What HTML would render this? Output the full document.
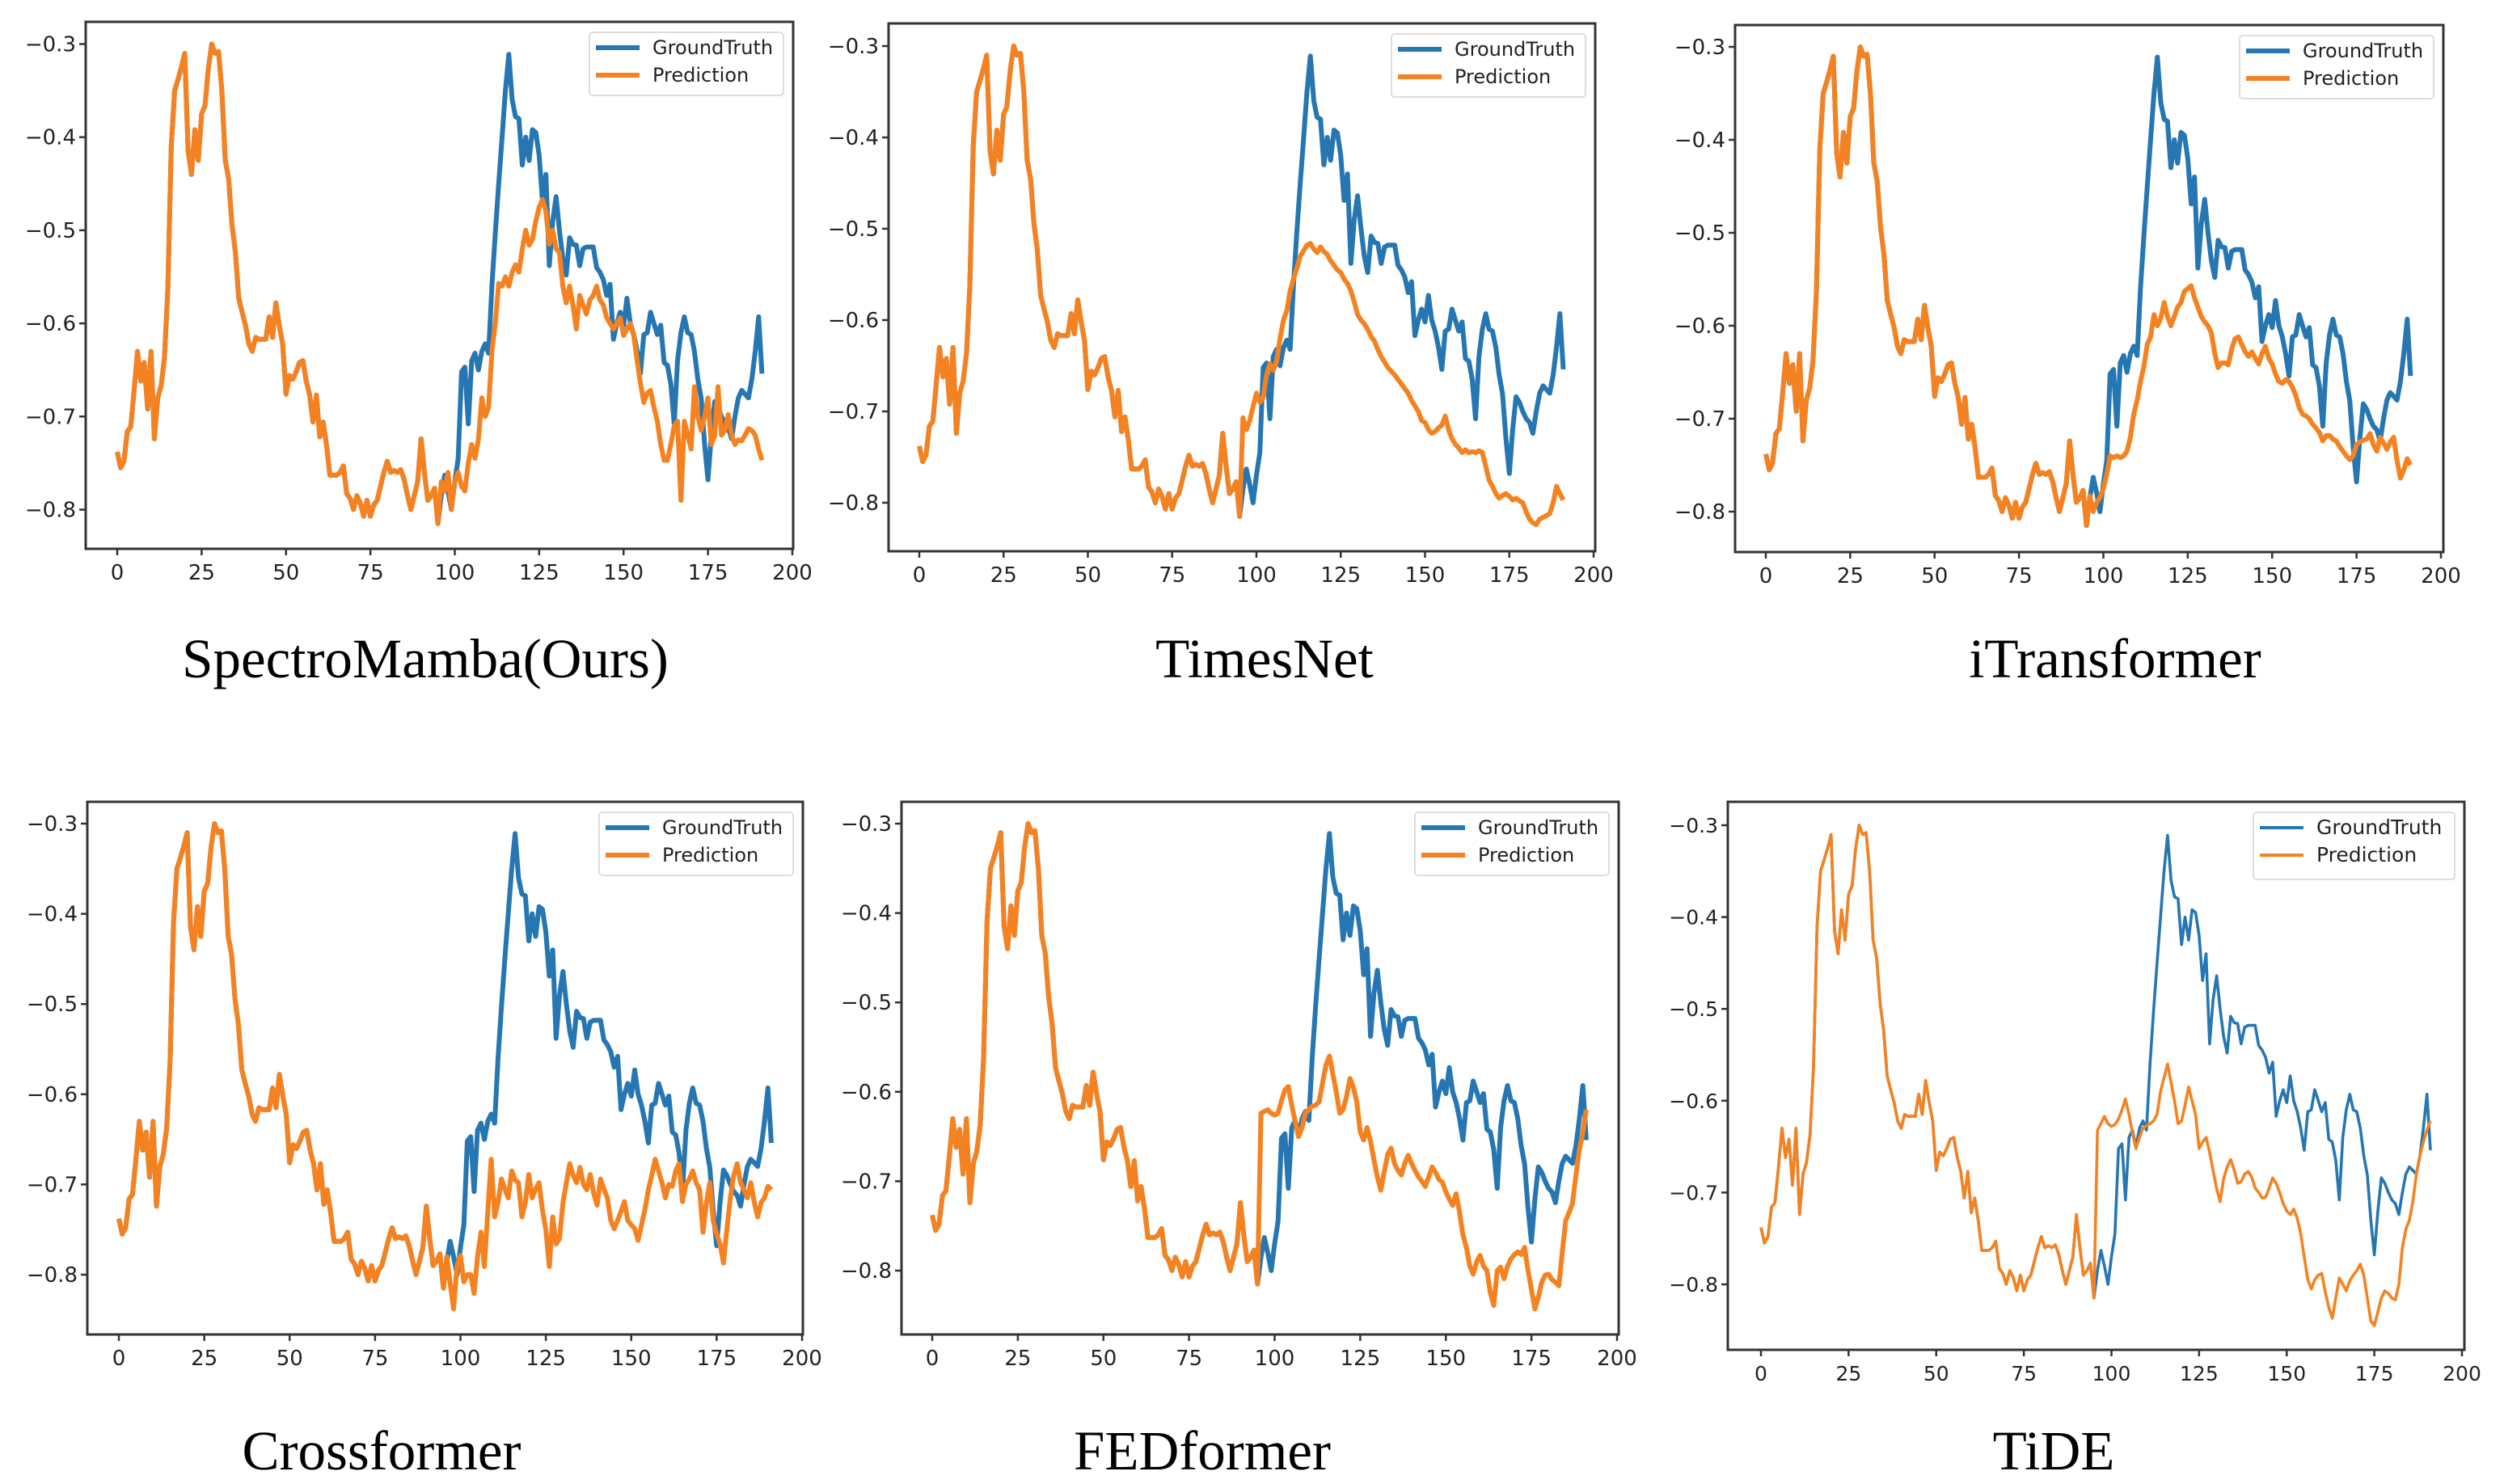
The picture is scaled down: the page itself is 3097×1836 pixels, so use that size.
<!DOCTYPE html>
<html><head><meta charset="utf-8"><style>
html,body{margin:0;padding:0;background:#fff;}
svg{display:block;}
</style></head><body>
<svg id="fig" xmlns="http://www.w3.org/2000/svg" width="3097" height="1836" viewBox="0 0 3097 1836"></svg>
<script>
const history = [-0.738,-0.755,-0.748,-0.716,-0.711,-0.672,-0.63,-0.662,-0.642,-0.692,-0.63,-0.724,-0.68,-0.667,-0.637,-0.563,-0.41,-0.35,-0.338,-0.325,-0.31,-0.415,-0.44,-0.392,-0.425,-0.375,-0.366,-0.326,-0.3,-0.31,-0.308,-0.35,-0.425,-0.445,-0.494,-0.523,-0.573,-0.588,-0.602,-0.622,-0.63,-0.615,-0.617,-0.617,-0.617,-0.593,-0.615,-0.578,-0.602,-0.622,-0.676,-0.656,-0.66,-0.652,-0.642,-0.64,-0.662,-0.677,-0.706,-0.677,-0.722,-0.706,-0.731,-0.763,-0.763,-0.763,-0.76,-0.753,-0.783,-0.788,-0.8,-0.785,-0.793,-0.807,-0.79,-0.807,-0.795,-0.79,-0.775,-0.76,-0.748,-0.76,-0.758,-0.76,-0.757,-0.768,-0.785,-0.8,-0.785,-0.77,-0.724,-0.76,-0.79,-0.785,-0.777,-0.815];
const groundTruth = [-0.785,-0.763,-0.78,-0.8,-0.77,-0.745,-0.652,-0.647,-0.708,-0.64,-0.632,-0.65,-0.63,-0.622,-0.632,-0.56,-0.503,-0.45,-0.4,-0.35,-0.311,-0.36,-0.378,-0.38,-0.43,-0.4,-0.425,-0.392,-0.395,-0.42,-0.469,-0.44,-0.538,-0.49,-0.464,-0.5,-0.53,-0.548,-0.508,-0.515,-0.516,-0.538,-0.52,-0.518,-0.518,-0.518,-0.54,-0.545,-0.553,-0.57,-0.558,-0.617,-0.6,-0.588,-0.602,-0.573,-0.6,-0.612,-0.63,-0.654,-0.612,-0.61,-0.588,-0.6,-0.612,-0.602,-0.642,-0.645,-0.665,-0.708,-0.64,-0.61,-0.593,-0.61,-0.612,-0.63,-0.66,-0.681,-0.73,-0.768,-0.72,-0.684,-0.69,-0.7,-0.708,-0.712,-0.724,-0.7,-0.68,-0.672,-0.676,-0.68,-0.66,-0.63,-0.593,-0.654];
const predSpectroMamba = [-0.77,-0.78,-0.76,-0.8,-0.77,-0.76,-0.775,-0.78,-0.75,-0.73,-0.745,-0.725,-0.68,-0.7,-0.69,-0.63,-0.6,-0.557,-0.56,-0.55,-0.56,-0.545,-0.537,-0.545,-0.52,-0.5,-0.516,-0.51,-0.49,-0.475,-0.467,-0.48,-0.515,-0.5,-0.52,-0.524,-0.56,-0.578,-0.56,-0.58,-0.606,-0.57,-0.58,-0.59,-0.575,-0.57,-0.56,-0.575,-0.58,-0.594,-0.6,-0.606,-0.6,-0.594,-0.613,-0.606,-0.6,-0.613,-0.64,-0.664,-0.685,-0.675,-0.672,-0.69,-0.705,-0.73,-0.747,-0.747,-0.73,-0.71,-0.705,-0.79,-0.705,-0.72,-0.735,-0.668,-0.7,-0.715,-0.7,-0.68,-0.73,-0.72,-0.668,-0.72,-0.715,-0.698,-0.72,-0.73,-0.725,-0.726,-0.72,-0.713,-0.715,-0.72,-0.735,-0.747];
const predTimesNet = [-0.707,-0.72,-0.71,-0.695,-0.68,-0.69,-0.685,-0.66,-0.648,-0.655,-0.645,-0.62,-0.6,-0.59,-0.568,-0.555,-0.543,-0.53,-0.524,-0.518,-0.516,-0.522,-0.526,-0.52,-0.525,-0.528,-0.535,-0.54,-0.545,-0.548,-0.555,-0.56,-0.568,-0.58,-0.594,-0.6,-0.604,-0.61,-0.618,-0.623,-0.632,-0.64,-0.646,-0.652,-0.656,-0.66,-0.665,-0.67,-0.675,-0.68,-0.688,-0.694,-0.7,-0.71,-0.712,-0.72,-0.724,-0.722,-0.718,-0.715,-0.705,-0.72,-0.73,-0.736,-0.74,-0.745,-0.742,-0.745,-0.744,-0.745,-0.743,-0.745,-0.76,-0.775,-0.782,-0.79,-0.795,-0.792,-0.79,-0.793,-0.797,-0.795,-0.798,-0.8,-0.81,-0.818,-0.822,-0.824,-0.818,-0.816,-0.814,-0.812,-0.8,-0.782,-0.79,-0.797];
const predITransformer = [-0.783,-0.8,-0.79,-0.785,-0.775,-0.76,-0.74,-0.742,-0.74,-0.742,-0.74,-0.735,-0.72,-0.695,-0.68,-0.66,-0.644,-0.62,-0.612,-0.588,-0.6,-0.592,-0.575,-0.59,-0.6,-0.59,-0.58,-0.575,-0.563,-0.56,-0.557,-0.57,-0.58,-0.59,-0.596,-0.6,-0.608,-0.63,-0.645,-0.64,-0.64,-0.642,-0.625,-0.614,-0.612,-0.62,-0.628,-0.633,-0.628,-0.635,-0.641,-0.63,-0.622,-0.635,-0.641,-0.652,-0.66,-0.662,-0.658,-0.66,-0.666,-0.675,-0.688,-0.695,-0.697,-0.7,-0.706,-0.71,-0.715,-0.724,-0.718,-0.718,-0.722,-0.724,-0.73,-0.735,-0.74,-0.744,-0.74,-0.728,-0.725,-0.723,-0.722,-0.716,-0.728,-0.735,-0.72,-0.726,-0.733,-0.725,-0.72,-0.745,-0.764,-0.755,-0.743,-0.75];
const predCrossformer = [-0.78,-0.81,-0.838,-0.79,-0.779,-0.808,-0.8,-0.8,-0.821,-0.78,-0.753,-0.791,-0.73,-0.672,-0.736,-0.72,-0.694,-0.705,-0.715,-0.685,-0.695,-0.698,-0.736,-0.72,-0.689,-0.715,-0.705,-0.698,-0.728,-0.75,-0.791,-0.736,-0.766,-0.76,-0.72,-0.698,-0.677,-0.69,-0.698,-0.681,-0.7,-0.706,-0.689,-0.71,-0.723,-0.694,-0.705,-0.715,-0.74,-0.749,-0.74,-0.73,-0.719,-0.74,-0.745,-0.749,-0.762,-0.745,-0.728,-0.706,-0.69,-0.672,-0.685,-0.698,-0.715,-0.7,-0.702,-0.685,-0.677,-0.719,-0.7,-0.694,-0.685,-0.698,-0.706,-0.753,-0.72,-0.698,-0.74,-0.755,-0.766,-0.787,-0.75,-0.715,-0.69,-0.677,-0.698,-0.706,-0.715,-0.698,-0.72,-0.736,-0.72,-0.715,-0.702,-0.706];
const predFEDformer = [-0.624,-0.622,-0.62,-0.624,-0.626,-0.624,-0.61,-0.598,-0.594,-0.615,-0.633,-0.65,-0.64,-0.624,-0.62,-0.616,-0.615,-0.611,-0.59,-0.57,-0.56,-0.58,-0.6,-0.624,-0.62,-0.605,-0.585,-0.595,-0.611,-0.645,-0.654,-0.64,-0.655,-0.676,-0.695,-0.71,-0.69,-0.67,-0.663,-0.68,-0.688,-0.693,-0.68,-0.671,-0.68,-0.688,-0.695,-0.7,-0.706,-0.695,-0.684,-0.69,-0.698,-0.701,-0.712,-0.72,-0.727,-0.714,-0.735,-0.76,-0.774,-0.795,-0.804,-0.79,-0.783,-0.795,-0.8,-0.825,-0.839,-0.8,-0.796,-0.809,-0.795,-0.787,-0.782,-0.779,-0.782,-0.774,-0.8,-0.821,-0.843,-0.83,-0.813,-0.805,-0.804,-0.81,-0.813,-0.817,-0.78,-0.744,-0.735,-0.725,-0.693,-0.665,-0.645,-0.62];
const predTiDE = [-0.632,-0.625,-0.617,-0.625,-0.628,-0.626,-0.62,-0.61,-0.598,-0.615,-0.635,-0.652,-0.64,-0.63,-0.627,-0.625,-0.622,-0.615,-0.59,-0.575,-0.56,-0.58,-0.6,-0.625,-0.622,-0.605,-0.585,-0.6,-0.615,-0.652,-0.645,-0.64,-0.656,-0.676,-0.696,-0.71,-0.685,-0.672,-0.664,-0.675,-0.69,-0.688,-0.68,-0.677,-0.683,-0.695,-0.7,-0.706,-0.705,-0.695,-0.684,-0.69,-0.7,-0.712,-0.72,-0.724,-0.718,-0.728,-0.745,-0.77,-0.795,-0.805,-0.795,-0.79,-0.788,-0.808,-0.825,-0.837,-0.815,-0.793,-0.8,-0.807,-0.796,-0.79,-0.785,-0.778,-0.79,-0.815,-0.84,-0.845,-0.83,-0.815,-0.807,-0.81,-0.815,-0.817,-0.8,-0.76,-0.74,-0.73,-0.71,-0.68,-0.66,-0.645,-0.632,-0.622];
const modelNames = ["SpectroMamba(Ours)","TimesNet","iTransformer","Crossformer","FEDformer","TiDE"];
const xTicks = [0,25,50,75,100,125,150,175,200];
const yTicks = [-0.3,-0.4,-0.5,-0.6,-0.7,-0.8];
const yTickLabels = ["\u22120.3","\u22120.4","\u22120.5","\u22120.6","\u22120.7","\u22120.8"];

const preds = [predSpectroMamba,predTimesNet,predITransformer,predCrossformer,predFEDformer,predTiDE];
const layout = [
 {L:106,R:981,T:27,B:679,x0:145,x200:980,y3:54.5,y8:630.5,tx:526,ty:838,thick:true},
 {L:1099,R:1973,T:29,B:682,x0:1137,x200:1971,y3:57,y8:622,tx:1564,ty:838,thick:true},
 {L:2146,R:3022,T:31,B:683,x0:2184,x200:3019,y3:58,y8:633,tx:2616,ty:838,thick:true},
 {L:108,R:993,T:992,B:1651,x0:147,x200:992,y3:1019,y8:1577,tx:472,ty:1818,thick:true},
 {L:1115,R:2002,T:992,B:1651,x0:1153,x200:2000,y3:1019,y8:1572,tx:1487,ty:1818,thick:true},
 {L:2137,R:3048,T:992,B:1670,x0:2178,x200:3045,y3:1021,y8:1589,tx:2540,ty:1818,thick:false}
];
const NS="http://www.w3.org/2000/svg";
const svg=document.getElementById('fig');
function mk(tag,attrs,parent){const e=document.createElementNS(NS,tag);for(const k in attrs)e.setAttribute(k,attrs[k]);(parent||svg).appendChild(e);return e;}
function pathFor(vals,start,sx,sy){
  let d="";
  vals.forEach((v,i)=>{const x=sx(start+i),y=sy(v);
    d+=(i===0?"M":"L")+x.toFixed(1)+","+y.toFixed(1);});
  return d;
}
layout.forEach((p,k)=>{
  const g=mk('g',{});
  
  
  const sx=t=>p.x0+t*(p.x200-p.x0)/200;
  const sy=v=>p.y3+(v+0.3)/(-0.5)*(p.y8-p.y3);
  const lw=p.thick?6:3.6;
  const fs=p.thick?26:25;
  const clip=mk('clipPath',{id:'clip'+k},g);
  mk('rect',{x:p.L,y:p.T,width:p.R-p.L,height:p.B-p.T},clip);
  const full=history.concat(groundTruth);
  const predFull=history.concat(preds[k]);
  const gt=mk('path',{d:pathFor(full,0,sx,sy),fill:'none',stroke:'#2676b2','stroke-width':lw,'stroke-linejoin':'round','clip-path':'url(#clip'+k+')'},g);
  
  
  const pr=mk('path',{d:pathFor(predFull,0,sx,sy),fill:'none',stroke:'#f58220','stroke-width':lw,'stroke-linejoin':'round','clip-path':'url(#clip'+k+')'},g);
  
  
  const fr=mk('rect',{x:p.L,y:p.T,width:p.R-p.L,height:p.B-p.T,fill:'none',stroke:'#333',"stroke-width":3},g);
  
  
  xTicks.forEach(t=>{const x=sx(t);
    mk('line',{x1:x,x2:x,y1:p.B,y2:p.B+8,stroke:'#333','stroke-width':2.5},g);
    const tx=mk('text',{x:x,y:p.B+38,'text-anchor':'middle','font-family':'DejaVu Sans, Liberation Sans, sans-serif','font-size':fs,fill:'#222'},g);
    tx.textContent=String(t);
    
    
  });
  yTicks.forEach((v,i)=>{const y=sy(v);
    mk('line',{x1:p.L-8,x2:p.L,y1:y,y2:y,stroke:'#333','stroke-width':2.5},g);
    const ty=mk('text',{x:p.L-12,y:y+9,'text-anchor':'end','font-family':'DejaVu Sans, Liberation Sans, sans-serif','font-size':fs,fill:'#222'},g);
    ty.textContent=yTickLabels[i];
    
    
  });
  const lg=mk('g',{},g);
  
  
  const lw2=p.thick?240:249, lh=p.thick?78:83;
  const lx=p.R-12-lw2, ly=p.T+13;
  mk('rect',{x:lx,y:ly,width:lw2,height:lh,fill:'#fff',stroke:'#ddd','stroke-width':2,rx:4},lg);
  [['GroundTruth','#2676b2',19],['Prediction','#f58220',53]].forEach(([lab,c,dy])=>{
    mk('line',{x1:lx+8,x2:lx+62,y1:ly+dy,y2:ly+dy,stroke:c,'stroke-width':p.thick?6:4},lg);
    const t=mk('text',{x:lx+78,y:ly+dy+8,'font-family':'DejaVu Sans, Liberation Sans, sans-serif','font-size':p.thick?24:25,fill:'#222'},lg);
    t.textContent=lab;
    
    
  });
  const title=mk('text',{x:p.tx,y:p.ty,'text-anchor':'middle','font-family':'Liberation Serif, serif','font-size':69,fill:'#000'},g);
  title.textContent=modelNames[k];
  
  
});
</script>
</body></html>
